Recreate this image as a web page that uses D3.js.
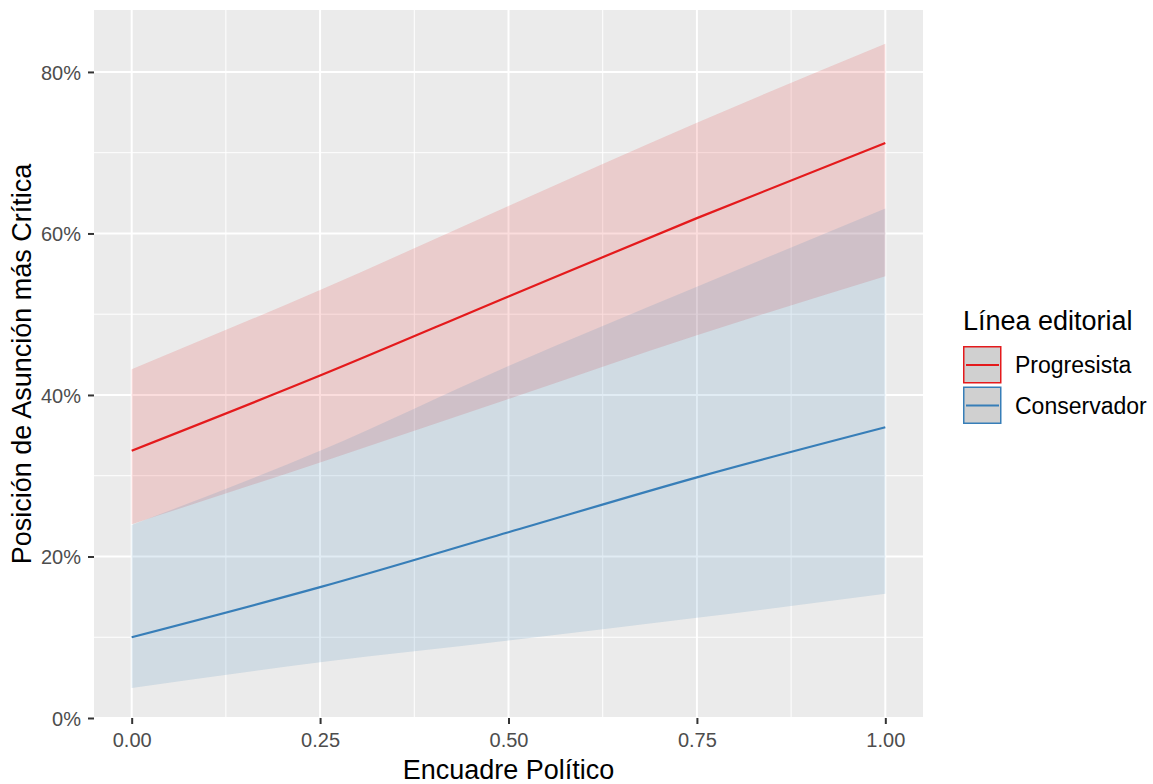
<!DOCTYPE html>
<html>
<head>
<meta charset="utf-8">
<script src="https://cdn.jsdelivr.net/npm/d3@7"></script>
<style>
  body { margin: 0; background: #fff; }
  svg text { font-family: "Liberation Sans", Arial, sans-serif; }
</style>
</head>
<body>
<div id="graf"></div>
<script>
// Datos (proporciones)
const encuadre = [0, 0.25, 0.5, 0.75, 1]
const series = ["Progresista", "Conservador"]
const colores = ["#E41A1C", "#377EB8"]

const progFit = [0.331, 0.424, 0.522, 0.619, 0.712]
const progLo = [0.240, 0.3165, 0.395, 0.474, 0.547]
const progHi = [0.432, 0.530, 0.634, 0.737, 0.835]

const consFit = [0.100, 0.162, 0.230, 0.298, 0.360]
const consLo = [0.037, 0.069, 0.096, 0.124, 0.154]
const consHi = [0.239, 0.331, 0.436, 0.534, 0.631]

const xTicks = [0, 0.25, 0.5, 0.75, 1]
const yTicks = [0, 0.2, 0.4, 0.6, 0.8]

const draw = (el) => {
  const ancho = 1153
  const alto = 784
  const panel = { left: 94, right: 923, top: 10, bottom: 718 }

  const svg = d3.select(el)
    .append("svg")
    .attr("width", ancho)
    .attr("height", alto)

  // Escaladores
  const x = d3.scaleLinear().domain([-0.05, 1.05]).range([panel.left, panel.right])
  const y = d3.scaleLinear().domain([0, 0.8767]).range([panel.bottom, panel.top])

  // Fondo del panel
  svg.append("rect")
    .attr("x", panel.left)
    .attr("y", panel.top)
    .attr("width", panel.right - panel.left)
    .attr("height", panel.bottom - panel.top)
    .attr("fill", "#EBEBEB")

  // Rejilla menor
  const xMinor = [0.125, 0.375, 0.625, 0.875]
  const yMinor = [0.1, 0.3, 0.5, 0.7]
  const grid = svg.append("g")
  grid.selectAll(".vmin").data(xMinor).join("line")
    .attr("x1", d => x(d)).attr("x2", d => x(d))
    .attr("y1", panel.top).attr("y2", panel.bottom)
    .attr("stroke", "#fff").attr("stroke-width", 1)
  grid.selectAll(".hmin").data(yMinor).join("line")
    .attr("x1", panel.left).attr("x2", panel.right)
    .attr("y1", d => y(d)).attr("y2", d => y(d))
    .attr("stroke", "#fff").attr("stroke-width", 1)
  // Rejilla mayor
  grid.selectAll(".vmaj").data(xTicks).join("line")
    .attr("x1", d => x(d)).attr("x2", d => x(d))
    .attr("y1", panel.top).attr("y2", panel.bottom)
    .attr("stroke", "#fff").attr("stroke-width", 2)
  grid.selectAll(".hmaj").data(yTicks).join("line")
    .attr("x1", panel.left).attr("x2", panel.right)
    .attr("y1", d => y(d)).attr("y2", d => y(d))
    .attr("stroke", "#fff").attr("stroke-width", 2)

  const datos = [
    { nombre: series[0], color: colores[0], fit: progFit, lo: progLo, hi: progHi },
    { nombre: series[1], color: colores[1], fit: consFit, lo: consLo, hi: consHi }
  ]

  const area = d3.area()
    .x((d, i) => x(encuadre[i]))
    .y0(d => y(d[0]))
    .y1(d => y(d[1]))
    .curve(d3.curveMonotoneX)
  const linea = d3.line()
    .x((d, i) => x(encuadre[i]))
    .y(d => y(d))
    .curve(d3.curveMonotoneX)

  // Bandas de confianza
  svg.append("g").selectAll("path").data(datos).join("path")
    .attr("d", d => area(d.lo.map((v, i) => [v, d.hi[i]])))
    .attr("fill", d => d.color)
    .attr("fill-opacity", 0.15)

  // Líneas
  svg.append("g").selectAll("path").data(datos).join("path")
    .attr("d", d => linea(d.fit))
    .attr("fill", "none")
    .attr("stroke", d => d.color)
    .attr("stroke-width", 2.2)

  // Ejes
  const ejeX = svg.append("g")
    .attr("transform", `translate(0, ${panel.bottom})`)
    .call(d3.axisBottom(x).tickValues(xTicks).tickFormat(d3.format(".2f")).tickSize(6).tickPadding(9))
  const ejeY = svg.append("g")
    .attr("transform", `translate(${panel.left}, 0)`)
    .call(d3.axisLeft(y).tickValues(yTicks).tickFormat(d3.format(".0%")).tickSize(6).tickPadding(7))

  ;[ejeX, ejeY].forEach(g => {
    g.select(".domain").remove()
    g.selectAll(".tick line").attr("stroke", "#333333").attr("stroke-width", 2)
    g.selectAll(".tick text")
      .attr("fill", "#4D4D4D")
      .style("font-size", "20px")
      .style("font-family", "'Liberation Sans', Arial, sans-serif")
  })
  ejeY.selectAll(".tick text").attr("dy", "0.36em")

  // Títulos de ejes
  svg.append("text")
    .attr("x", (panel.left + panel.right) / 2)
    .attr("y", 779)
    .attr("text-anchor", "middle")
    .style("font-size", "27px")
    .attr("fill", "#000")
    .text("Encuadre Político")

  svg.append("text")
    .attr("transform", `translate(31, ${(panel.top + panel.bottom) / 2}) rotate(-90)`)
    .attr("text-anchor", "middle")
    .style("font-size", "27px")
    .attr("fill", "#000")
    .text("Posición de Asunción más Crítica")

  // Leyenda
  const ley = svg.append("g").attr("transform", "translate(963, 330)")
  ley.append("text")
    .attr("x", 0).attr("y", 0)
    .style("font-size", "27px")
    .attr("fill", "#000")
    .text("Línea editorial")

  const item = ley.selectAll(".item").data(datos).join("g")
    .attr("transform", (d, i) => `translate(0, ${16 + i * 40.5})`)
  item.append("rect")
    .attr("x", 0.75).attr("y", 0.75)
    .attr("width", 37).attr("height", 36)
    .attr("fill", "#D0D0D0")
    .attr("stroke", d => d.color)
    .attr("stroke-width", 1.5)
  item.append("line")
    .attr("x1", 3).attr("x2", 36)
    .attr("y1", 19).attr("y2", 19)
    .attr("stroke", d => d.color)
    .attr("stroke-width", 2.2)
  item.append("text")
    .attr("x", 52).attr("y", 19)
    .attr("dy", "0.36em")
    .style("font-size", "23px")
    .attr("fill", "#000")
    .text(d => d.nombre)
}

draw("#graf")
</script>
</body>
</html>
